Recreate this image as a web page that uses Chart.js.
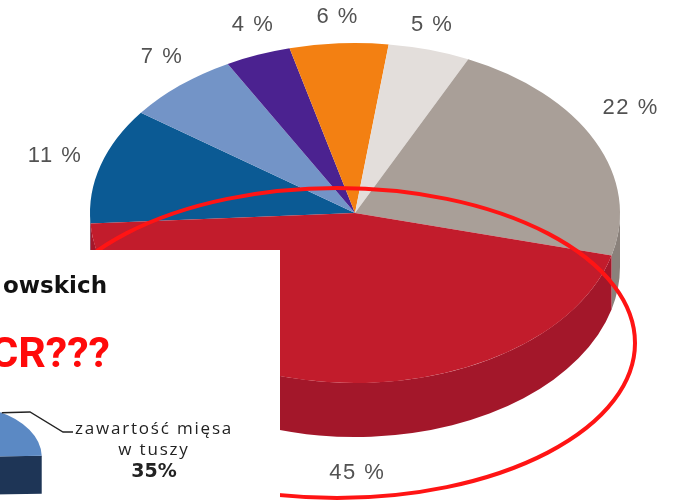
<!DOCTYPE html>
<html>
<head>
<meta charset="utf-8">
<script src="https://cdn.jsdelivr.net/npm/chart.js@4.4.1/dist/chart.umd.min.js"></script>
<style>
html, body { margin: 0; padding: 0; background: #fff; overflow: hidden; }
#wrap { position: relative; width: 673px; height: 501px; overflow: hidden; }
#pie { position: absolute; left: 0; top: 0; }
#inset { position: absolute; left: -420px; top: 197px; }
</style>
</head>
<body>
<div id="wrap">
  <canvas id="pie" width="673" height="501"></canvas>
  <canvas id="inset" width="700" height="600"></canvas>
</div>
<script>
// Udział procentowy (duży wykres)
const shares = [11, 7, 4, 6, 5, 22, 45];
const topColors = ['#0b5a94', '#7394c7', '#4b2290', '#f38012', '#e3dedb', '#a99f98', '#c21c2c'];
const sideColors = ['#08426e', '#54719c', '#34176a', '#c0640c', '#b8b2ae', '#8a817b', '#a3172a'];

// Mały wykres w ramce
const insetShares = [35, 65];
const insetLabel = ['zawartość mięsa', 'w tuszy'];

const TAU = Math.PI * 2;

// geometry of an arc as Chart.js actually paints it (offset moves it and widens it)
function arcShape(arc, tilt) {
    const mid = (arc.startAngle + arc.endAngle) / 2;
    const off = (arc.options.offset || 0) / 4;
    const fix = 1 - Math.sin(Math.min(Math.PI, arc.circumference || 0));
    const r = arc.outerRadius + off * fix;
    const span = arc.endAngle - arc.startAngle;
    const trim = off ? (span - Math.max(0.001, span * r - off * fix / Math.PI) / r) / 2 : 0;
    return {
        x: arc.x + Math.cos(mid) * off,
        y: arc.y + Math.sin(mid) * off * tilt,
        r: r,
        start: arc.startAngle + trim,
        end: arc.endAngle - trim
    };
}

// squash the pie into an ellipse and give it a wall
function tiltPlugin(tilt, depth) {
    return {
        id: 'tilt',
        beforeDatasetsDraw(chart) {
            const ctx = chart.ctx;
            const meta = chart.getDatasetMeta(0);
            const sides = chart.data.datasets[0].sideColor;
            meta.data.forEach((arc, i) => {
                const s = arcShape(arc, tilt);
                ctx.fillStyle = sides[i];
                for (let n = -2; n <= 2; n++) {
                    const lo = Math.max(s.start, n * TAU);
                    const hi = Math.min(s.end, n * TAU + Math.PI);
                    if (hi <= lo) continue;
                    ctx.beginPath();
                    ctx.ellipse(s.x, s.y, s.r, s.r * tilt, 0, lo, hi);
                    ctx.ellipse(s.x, s.y + depth, s.r, s.r * tilt, 0, hi, lo, true);
                    ctx.closePath();
                    ctx.fill();
                }
                if (arc.options.offset) {
                    [[s.end, 1], [s.start, -1]].forEach(([a, dir]) => {
                        if (dir * Math.cos(a) <= 0) return;
                        const ex = s.x + s.r * Math.cos(a), ey = s.y + s.r * tilt * Math.sin(a);
                        ctx.beginPath();
                        ctx.moveTo(s.x, s.y);
                        ctx.lineTo(ex, ey);
                        ctx.lineTo(ex, ey + depth);
                        ctx.lineTo(s.x, s.y + depth);
                        ctx.closePath();
                        ctx.fill();
                    });
                }
            });
            const { x, y } = meta.data[0];
            ctx.save();
            ctx.translate(x, y);
            ctx.scale(1, tilt);
            ctx.translate(-x, -y);
        },
        afterDatasetsDraw(chart) {
            chart.ctx.restore();
        }
    };
}

const mainTilt = 0.6415, mainDepth = 54;
// hand placement of each percentage around the rim
const labelNudge = [[-12, 0], [5, -2], [8, 3], [1, 9], [-7, 9], [4, -18], [31, 2]];

const percentLabels = {
    id: 'percentLabels',
    afterDatasetsDraw(chart) {
        const ctx = chart.ctx;
        ctx.save();
        ctx.font = '22px "Liberation Sans"';
        ctx.letterSpacing = '1.5px';
        ctx.fillStyle = '#525252';
        ctx.textAlign = 'center';
        ctx.textBaseline = 'middle';
        chart.getDatasetMeta(0).data.forEach((arc, i) => {
            const mid = (arc.startAngle + arc.endAngle) / 2;
            const r = arc.outerRadius;
            const x = arc.x + (r + 35) * Math.cos(mid) + labelNudge[i][0];
            const y = arc.y + (r * mainTilt + 35) * Math.sin(mid) + (Math.sin(mid) > 0 ? mainDepth : 0) + labelNudge[i][1];
            ctx.fillText(shares[i] + ' %', x, y);
        });
        ctx.restore();
    }
};

// odręczna czerwona obwódka
const redRing = {
    id: 'redRing',
    afterDraw(chart) {
        const ctx = chart.ctx;
        ctx.save();
        ctx.strokeStyle = '#ff1414';
        ctx.lineWidth = 4;
        ctx.beginPath();
        ctx.ellipse(337, 343, 298, 155, 0, 0, TAU);
        ctx.stroke();
        ctx.restore();
    }
};

new Chart(document.getElementById('pie'), {
    type: 'pie',
    data: {
        datasets: [{
            data: shares,
            backgroundColor: topColors,
            sideColor: sideColors,
            borderWidth: 0
        }]
    },
    options: {
        responsive: false,
        animation: false,
        events: [],
        rotation: -93.5,
        radius: 265,
        layout: { padding: { left: 37, right: 0, top: 0, bottom: 75 } },
        plugins: { legend: { display: false }, tooltip: { enabled: false } }
    },
    plugins: [tiltPlugin(mainTilt, mainDepth), percentLabels, redRing]
});

// white panel (x 420.., y 53..) with the small pie and its texts
const insetPanel = {
    id: 'insetPanel',
    beforeDraw(chart) {
        const ctx = chart.ctx;
        ctx.save();
        ctx.fillStyle = '#fff';
        ctx.fillRect(420, 53, 280, chart.height - 53);
        ctx.restore();
    },
    afterDraw(chart) {
        const ctx = chart.ctx;
        ctx.save();
        ctx.beginPath();
        ctx.rect(420, 53, 280, chart.height - 53);
        ctx.clip();
        ctx.textAlign = 'right';
        ctx.textBaseline = 'alphabetic';
        ctx.fillStyle = '#111';
        ctx.font = 'bold 23px "DejaVu Sans"';
        ctx.fillText('owskich', 527, 96);
        ctx.fillStyle = '#ff0a0a';
        ctx.font = 'bold 43px Roboto';
        ctx.fillText('CR???', 530, 170);

        // leader from the 35 % slice to its label
        const s = arcShape(chart.getDatasetMeta(0).data[0], 0.64);
        const a = -60 * Math.PI / 180;
        ctx.strokeStyle = '#222';
        ctx.lineWidth = 1.3;
        ctx.beginPath();
        ctx.moveTo(s.x + s.r * Math.cos(a), s.y + s.r * 0.64 * Math.sin(a));
        ctx.lineTo(450, 215);
        ctx.lineTo(483, 235);
        ctx.lineTo(493, 235);
        ctx.stroke();

        ctx.textAlign = 'center';
        ctx.fillStyle = '#222';
        ctx.font = '17px "Open Sans"';
        ctx.letterSpacing = '1.8px';
        ctx.fillText(insetLabel[0], 574, 237);
        ctx.fillText(insetLabel[1], 574, 258);
        ctx.letterSpacing = '0px';
        ctx.font = 'bold 19px "DejaVu Sans"';
        ctx.fillText(insetShares[0] + '%', 574, 280);
        ctx.restore();
    }
};

new Chart(document.getElementById('inset'), {
    type: 'pie',
    data: {
        datasets: [{
            data: insetShares,
            backgroundColor: ['#5b89c4', '#c5d6ee'],
            sideColor: ['#1e3556', '#8fa9cc'],
            offset: [280, 0],
            borderWidth: 0
        }]
    },
    options: {
        responsive: false,
        animation: false,
        events: [],
        rotation: -36,
        radius: 66.6,
        layout: { padding: 0 },
        plugins: { legend: { display: false }, tooltip: { enabled: false } }
    },
    plugins: [insetPanel, tiltPlugin(0.64, 38)]
});
</script>
</body>
</html>
